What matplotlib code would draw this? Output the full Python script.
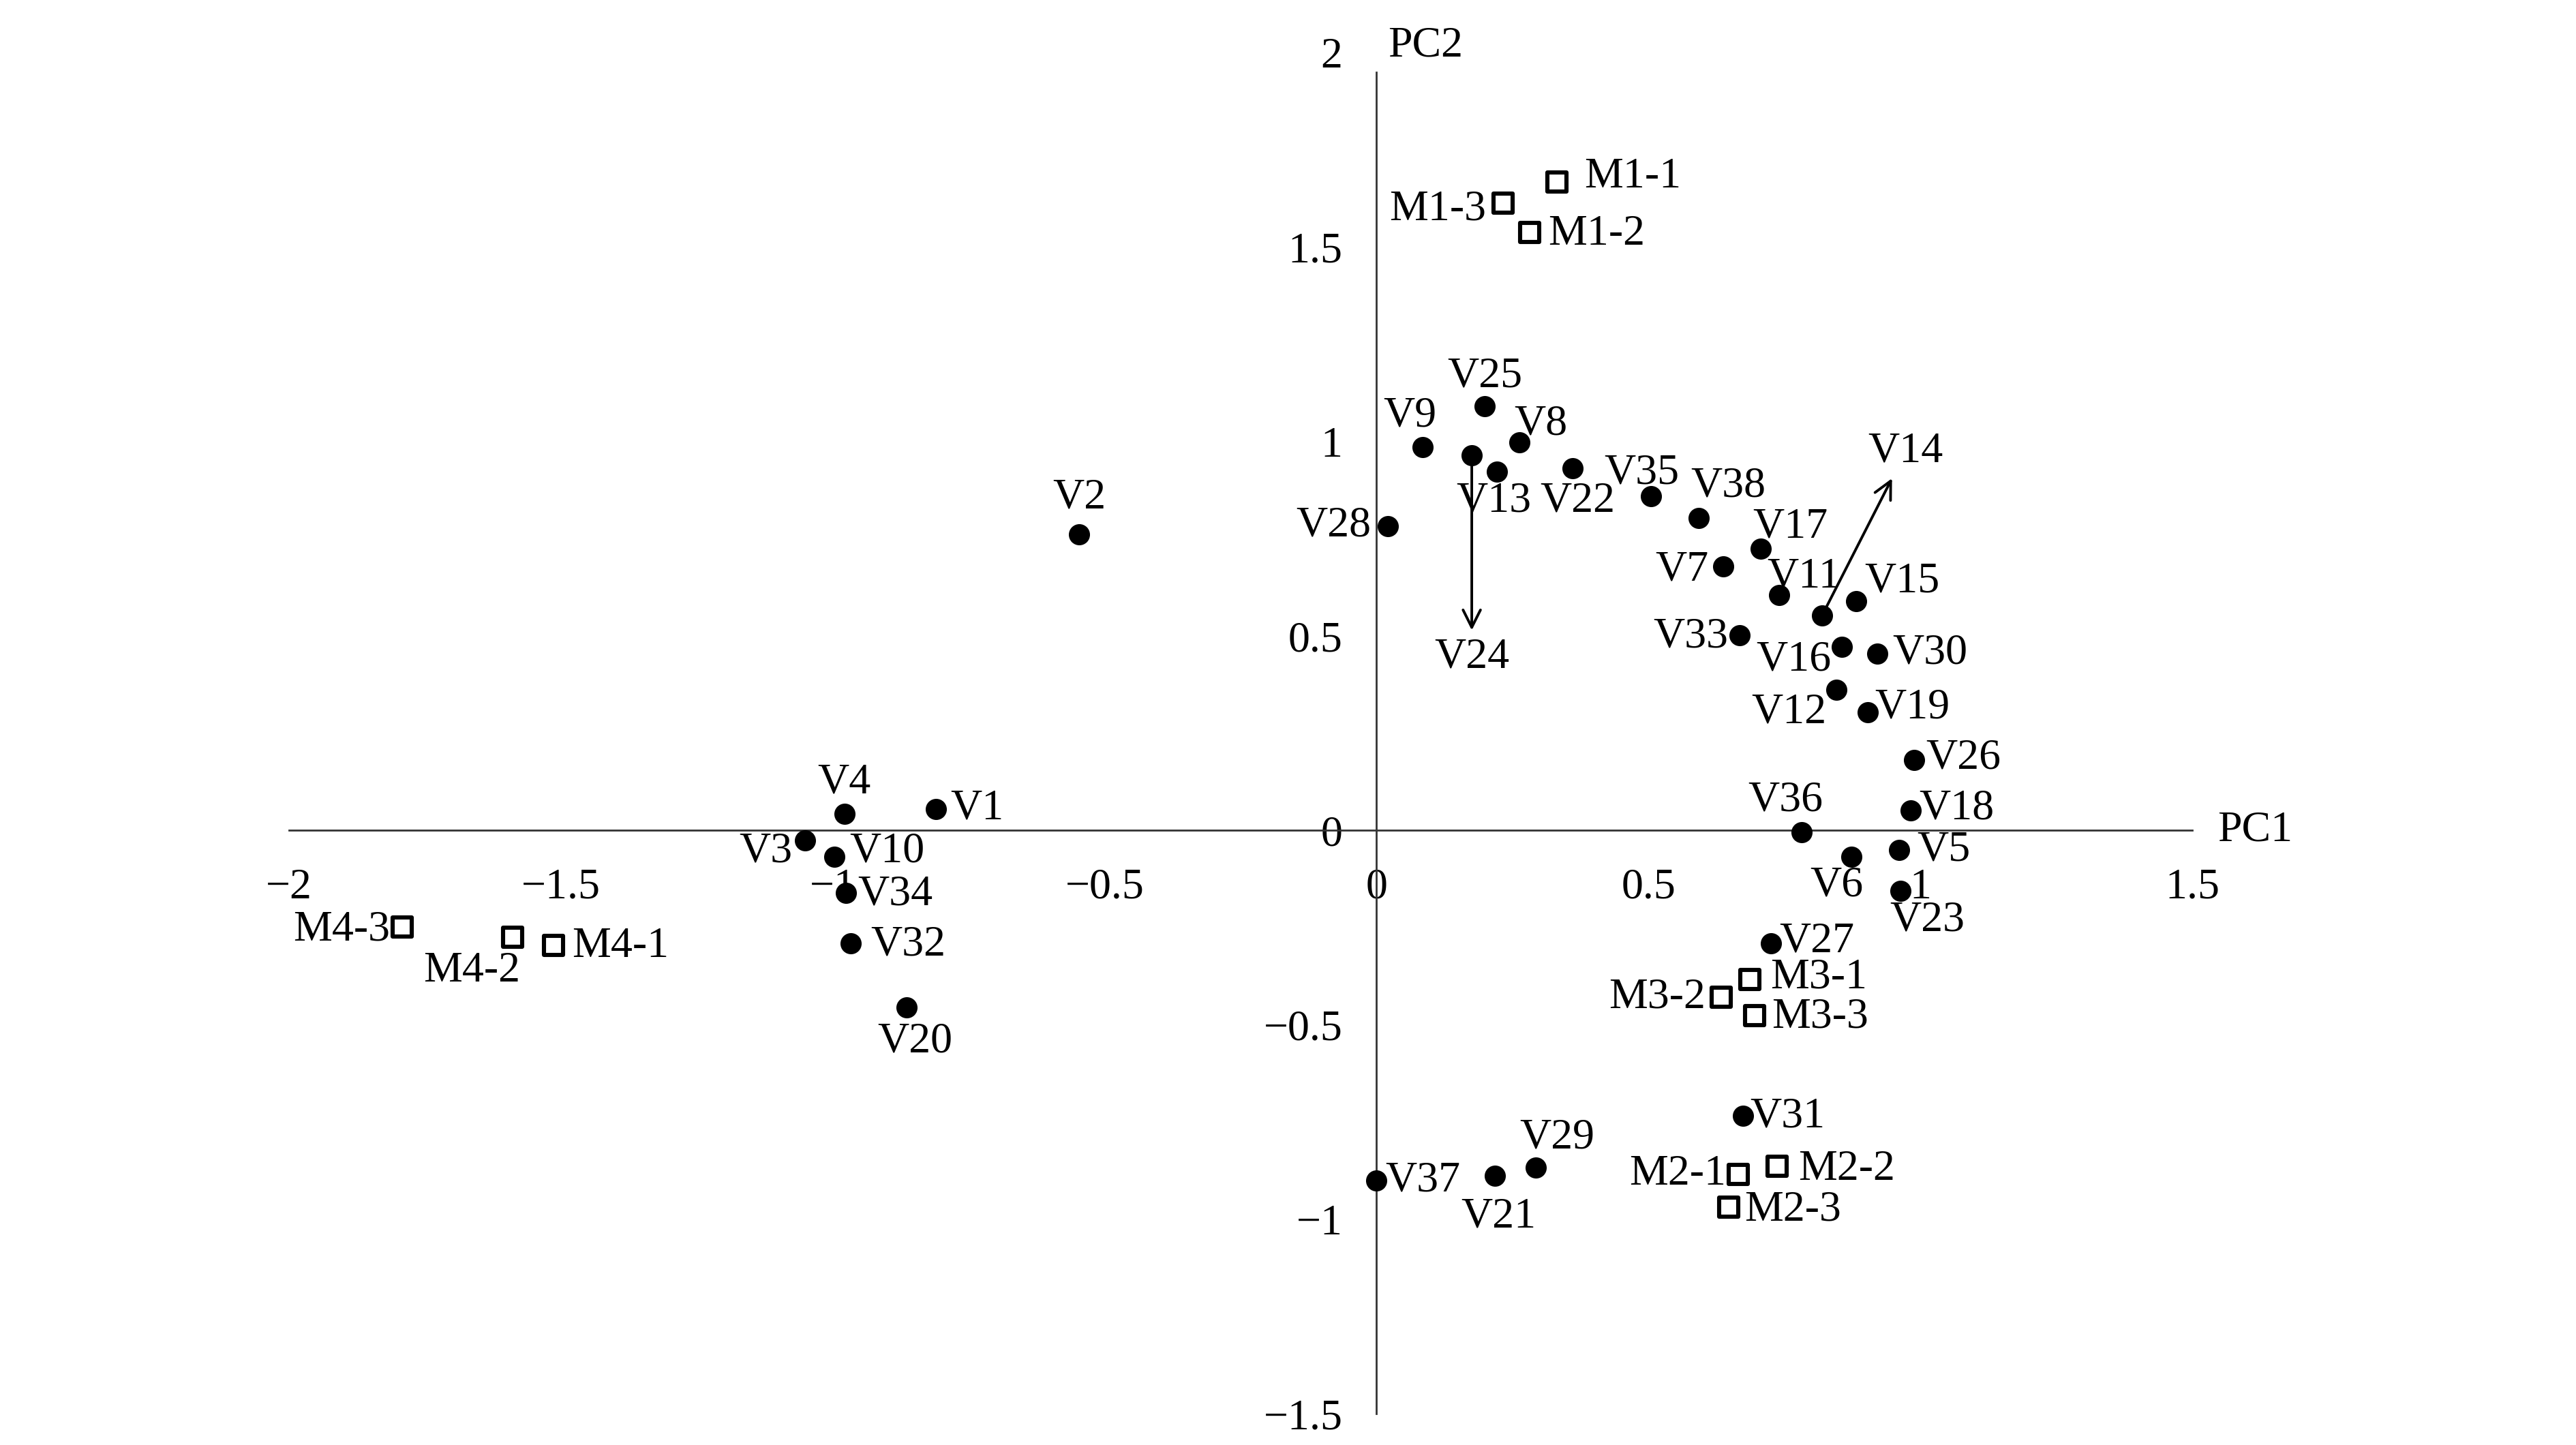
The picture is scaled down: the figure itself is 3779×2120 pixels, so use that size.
import matplotlib
matplotlib.use("Agg")
import matplotlib.pyplot as plt

plt.rcParams['font.family'] = ['Liberation Serif', 'DejaVu Serif']

# variables (filled dots)
var_names = ['V1', 'V2', 'V3', 'V4', 'V5', 'V6', 'V7', 'V8', 'V9', 'V10',
             'V11', 'V12', 'V13', 'V14', 'V15', 'V16', 'V17', 'V18', 'V19', 'V20',
             'V21', 'V22', 'V23', 'V24', 'V25', 'V26', 'V27', 'V28', 'V29', 'V30',
             'V31', 'V32', 'V33', 'V34', 'V35', 'V36', 'V37', 'V38']
var_pc1 = [-0.81, -0.547, -1.051, -0.979, 0.961, 0.873, 0.637, 0.263, 0.085, -0.997,
           0.74, 0.846, 0.221, 0.819, 0.882, 0.855, 0.707, 0.982, 0.903, -0.864,
           0.218, 0.36, 0.964, 0.175, 0.199, 0.988, 0.725, 0.021, 0.293, 0.921,
           0.674, -0.967, 0.668, -0.976, 0.505, 0.782, 0.0, 0.592]
var_pc2 = [0.055, 0.762, -0.025, 0.042, -0.051, -0.067, 0.678, 0.998, 0.985, -0.067,
           0.606, 0.362, 0.922, 0.552, 0.589, 0.472, 0.724, 0.051, 0.303, -0.455,
           -0.888, 0.931, -0.156, 0.964, 1.091, 0.181, -0.291, 0.783, -0.867, 0.455,
           -0.733, -0.291, 0.501, -0.16, 0.859, -0.004, -0.901, 0.804]

# samples (open squares)
sample_names = ['M1-1', 'M1-2', 'M1-3', 'M2-1', 'M2-2', 'M2-3',
                'M3-1', 'M3-2', 'M3-3', 'M4-1', 'M4-2', 'M4-3']
sample_pc1 = [0.332, 0.281, 0.233, 0.665, 0.737, 0.647,
              0.686, 0.634, 0.695, -1.514, -1.589, -1.792]
sample_pc2 = [1.667, 1.537, 1.613, -0.884, -0.863, -0.968,
              -0.383, -0.429, -0.476, -0.295, -0.274, -0.248]

xticks = [-2, -1.5, -1, -0.5, 0, 0.5, 1, 1.5]
xticklabels = ['\u22122', '\u22121.5', '\u22121', '\u22120.5', '0', '0.5', '1', '1.5']
yticks = [-1.5, -1, -0.5, 0, 0.5, 1, 1.5, 2]
yticklabels = ['\u22121.5', '\u22121', '\u22120.5', '0', '0.5', '1', '1.5', '2']

# label offsets (screen px of the reference, y up), layout only
offs = {
    'M1-1': (46, 3), 'M1-3': (-40, -4), 'M1-2': (41, -1),
    'V25': (0, 18), 'V9': (-8, 19), 'V8': (13, 11), 'V13': (-2, -18),
    'V22': (3, -20), 'V35': (-6, 14), 'V38': (18, 19), 'V17': (18, 13),
    'V7': (-25, -2), 'V11': (15, 11), 'V15': (28, 12), 'V28': (-33, 0),
    'V2': (0, 22), 'V33': (-30, -1), 'V16': (-29, -8), 'V30': (32, 0),
    'V12': (-29, -14), 'V19': (27, 3), 'V26': (30, 1), 'V18': (28, 1),
    'V36': (-10, 19), 'V5': (27, 0), 'V6': (-9, -18), 'V23': (16, -18),
    'V27': (28, 1), 'M3-1': (42, 1), 'M3-2': (-39, 0), 'M3-3': (40, -1),
    'V31': (27, -1), 'M2-2': (42, -2), 'M2-1': (-37, 0), 'M2-3': (39, -2),
    'V37': (28, 0), 'V21': (2, -25), 'V29': (13, 18), 'V4': (0, 19),
    'V1': (25, 0), 'V3': (-24, -7), 'V10': (32, 3), 'V34': (30, -1),
    'V32': (35, -1), 'V20': (5, -21), 'M4-3': (-37, -2), 'M4-2': (-25, -21),
    'M4-1': (41, -1),
}
arrow_offs = {'V24': (0, -123), 'V14': (51, 100)}
k = 0.868  # reference px -> points

fig = plt.figure(figsize=(18.9, 10.6), dpi=200)
ax = fig.add_axes([0.1122, 0.0216, 0.7386, 0.942])
ax.set_xlim(-2, 1.5)
ax.set_ylim(-1.5, 2)

ax.scatter(var_pc1, var_pc2, s=125, color='black', zorder=3, linewidths=0)
ax.scatter(sample_pc1, sample_pc2, s=105, marker='s', facecolor='white',
           edgecolor='black', linewidths=2.2, zorder=3)

fs = 23
for name, x, y in list(zip(var_names, var_pc1, var_pc2)) + list(zip(sample_names, sample_pc1, sample_pc2)):
    if name in arrow_offs:
        dx, dy = arrow_offs[name]
        ax.annotate(name, xy=(x, y), xytext=(dx * k, dy * k), textcoords='offset points',
                    ha='center', va='center', fontsize=fs,
                    arrowprops=dict(arrowstyle='<-', color='black', lw=1.4,
                                    shrinkA=2, shrinkB=4))
    else:
        dx, dy = offs[name]
        ax.annotate(name, xy=(x, y), xytext=(dx * k, dy * k), textcoords='offset points',
                    ha='center', va='center', fontsize=fs)

for side in ['top', 'right']:
    ax.spines[side].set_visible(False)
ax.spines['left'].set_position(('data', 0))
ax.spines['bottom'].set_position(('data', 0))
ax.spines['left'].set_bounds(-1.5, 1.95)
for side in ['left', 'bottom']:
    ax.spines[side].set_linewidth(1.0)
    ax.spines[side].set_color('#333333')

ax.set_xticks(xticks)
ax.set_xticklabels(xticklabels, fontsize=fs)
ax.set_yticks(yticks)
ax.set_yticklabels(yticklabels, fontsize=fs)
ax.tick_params(axis='x', length=0, pad=20)
ax.tick_params(axis='y', length=0, pad=18)

ax.text(0.09, 2.017, 'PC2', fontsize=fs, ha='center', va='center', clip_on=False)
ax.text(1.616, 0.0, 'PC1', fontsize=fs, ha='center', va='center', clip_on=False)

fig.savefig('out.png', dpi=200)
